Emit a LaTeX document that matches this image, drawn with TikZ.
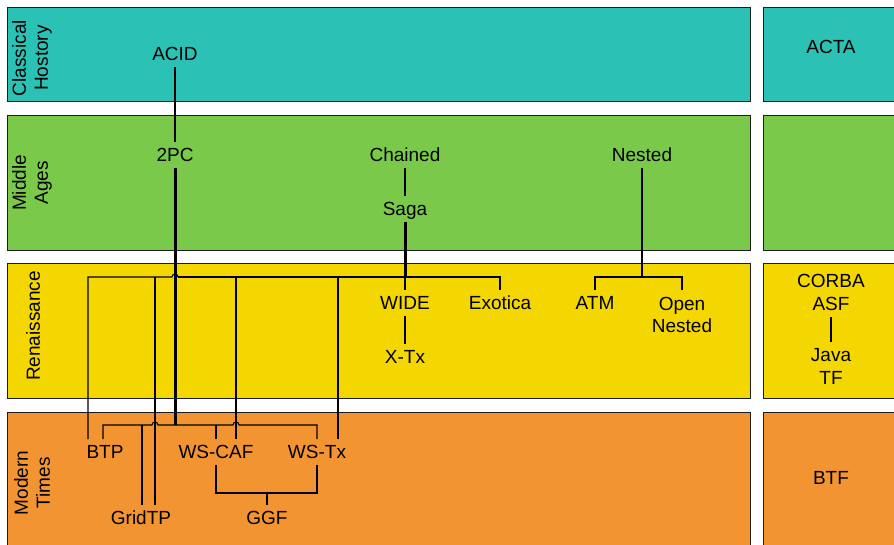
\documentclass[tikz,border=0pt]{standalone}
\usepackage{fontspec}
\setmainfont{Liberation Sans}
\definecolor{eraTeal}{HTML}{2BC1B5}
\definecolor{eraGreen}{HTML}{7BC94B}
\definecolor{eraYellow}{HTML}{F4D600}
\definecolor{eraOrange}{HTML}{F39433}
\definecolor{frameInk}{HTML}{1C1C1C}
\tikzset{
  band/.style={draw=frameInk, line width=0.9pt},
  lbl/.style={font=\fontsize{19}{22.5}\selectfont, text height=13.5pt, text depth=0pt,
              inner xsep=2pt, inner ysep=6pt},
  mlbl/.style={font=\fontsize{19}{22.5}\selectfont, align=center,
               inner xsep=2pt, inner ysep=6.5pt},
  era/.style={font=\fontsize{19}{22}\selectfont, align=center, rotate=90, inner sep=0pt},
  link/.style={line width=1.1pt, draw=black},
  mainlink/.style={line width=1.8pt, draw=black},
  heavy/.style={line width=3pt, draw=black},
}
\begin{document}
\begin{tikzpicture}[x=1pt, y=-1pt]
\useasboundingbox (0,0) rectangle (894,545);
\clip (0,0) rectangle (894,545);

% era bands, main column and side column
\fill[white] (0,0) rectangle (894,545);
\draw[band, fill=eraTeal]   (7,7)   rectangle (750,101);
\draw[band, fill=eraGreen]  (7,115) rectangle (750,250);
\draw[band, fill=eraYellow] (7,263) rectangle (750,398);
\draw[band, fill=eraOrange] (7,412) rectangle (750,560);
\draw[band, fill=eraTeal]   (763,7)   rectangle (910,101);
\draw[band, fill=eraGreen]  (763,115) rectangle (910,250);
\draw[band, fill=eraYellow] (763,263) rectangle (910,398);
\draw[band, fill=eraOrange] (763,412) rectangle (910,560);

% era titles
\node[era] (tClassical) at (32,58)  {Classical\\Hostory};
\node[era] (tMiddle)    at (32,183) {Middle\\Ages};
\node[era] (tRenais)    at (33,326) {Renaissance};
\node[era] (tModern)    at (32,483) {Modern\\Times};

% models
\node[lbl] (acid)    at (175,54)  {ACID};
\node[lbl] (pc2)     at (175,155) {2PC};
\node[lbl] (chained) at (405,155) {Chained};
\node[lbl] (saga)    at (405,209) {Saga};
\node[lbl] (nested)  at (642,155) {Nested};
\node[lbl] (wide)    at (405,303) {WIDE};
\node[lbl] (xtx)     at (405,357) {X-Tx};
\node[lbl] (exotica) at (500,303) {Exotica};
\node[lbl] (atm)     at (595,303) {ATM};
\node[mlbl, anchor=north] (open) at (682,290.5) {Open\\Nested};
\node[lbl] (btp)     at (105,452) {BTP};
\node[lbl] (wscaf)   at (216,452) {WS-CAF};
\node[lbl] (wstx)    at (317,452) {WS-Tx};
\node[lbl] (gridtp)  at (141,518) {GridTP};
\node[lbl] (ggf)     at (267,518) {GGF};
\node[lbl] (acta)    at (831,47)  {ACTA};
\node[mlbl] (corba)  at (831,292.5) {CORBA\\ASF};
\node[mlbl] (java)   at (831,366.5) {Java\\TF};
\node[lbl] (btf)     at (831,478) {BTF};

% junction rows
\coordinate (rbar) at (0,277);
\coordinate (mbar) at (0,425);
\coordinate (gbar) at (0,493);

% classical and middle ages lineage
\draw[link]  (acid.south) -- (pc2.north);
\draw[link]  (chained.south) -- (saga.north);
\draw[link]  (corba.south) -- (java.north);
\draw[link]  (wide.south) -- (xtx.north);

% renaissance distribution bar (hops over the 2PC trunk)
\draw[link] (88,0 |- btp.north) -- (88,0 |- rbar) -- (172,0 |- rbar)
            arc[start angle=180, end angle=0, radius=3pt];
\draw[mainlink] (178,0 |- rbar) -- (saga.south |- rbar);
\draw[link] (saga.south |- rbar) -- (exotica.north |- rbar) -- (exotica.north);
\draw[link] (wide.north |- rbar) -- (wide.north);
\draw[link] (155,0 |- rbar) -- (155,0 |- gridtp.north);
\draw[link] (236,0 |- rbar) -- (236,0 |- wscaf.north);
\draw[link] (338,0 |- rbar) -- (338,0 |- wstx.north);

% nested branch
\draw[link] (nested.south) -- (nested.south |- rbar);
\draw[link] (atm.north) -- (atm.north |- rbar) -- (open.north |- rbar) -- (open.north);

% modern distribution bar (hops over the two crossing lines)
\draw[link] (103,0 |- btp.north) -- (103,0 |- mbar) -- (152,0 |- mbar)
            arc[start angle=180, end angle=0, radius=3pt] -- (233,0 |- mbar)
            arc[start angle=180, end angle=0, radius=3pt] -- (wstx.north |- mbar) -- (wstx.north);
\draw[link] (142,0 |- mbar) -- (142,0 |- gridtp.north);
\draw[link] (wscaf.north |- mbar) -- (wscaf.north);

% GGF join
\draw[link] (wscaf.south) -- (wscaf.south |- gbar) -- (wstx.south |- gbar) -- (wstx.south);
\draw[link] (ggf.north |- gbar) -- (ggf.north);

% heavy trunks
\draw[heavy] (pc2.south) -- (pc2.south |- mbar);
\draw[heavy] (saga.south) -- (saga.south |- rbar);
\end{tikzpicture}
\end{document}
